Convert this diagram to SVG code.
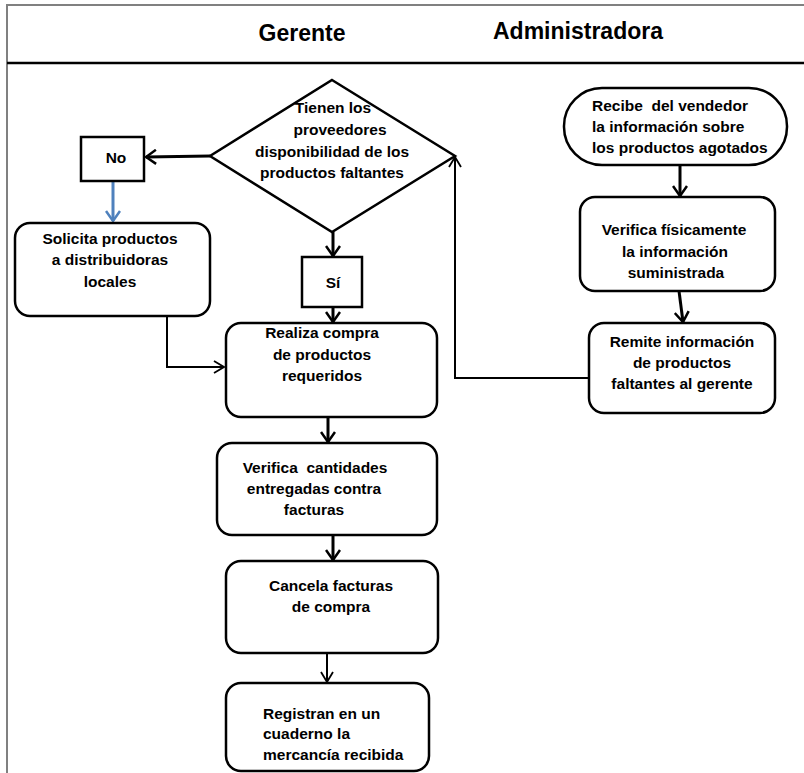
<svg xmlns="http://www.w3.org/2000/svg" width="804" height="773" viewBox="0 0 804 773">
<style>
  .t{font-family:"Liberation Sans",Arial,sans-serif;font-weight:bold;font-size:15.5px;fill:#000}
  .h{font-family:"Liberation Sans",Arial,sans-serif;font-weight:bold;font-size:23px;fill:#000}
  .box{fill:#fff;stroke:#000;stroke-width:2.5}
  .c{fill:none;stroke:#000;stroke-width:3}
  .ct{fill:none;stroke:#000;stroke-width:2}
</style>
<defs>
  <marker id="ah" viewBox="0 0 12 16" refX="11" refY="8" markerWidth="12" markerHeight="16" markerUnits="userSpaceOnUse" orient="auto">
    <path d="M1,1 L11,8 L1,15" fill="none" stroke="#000" stroke-width="2.5"/>
  </marker>
  <marker id="ahb" viewBox="0 0 12 16" refX="11" refY="8" markerWidth="12" markerHeight="16" markerUnits="userSpaceOnUse" orient="auto">
    <path d="M1,1 L11,8 L1,15" fill="none" stroke="#4f81bd" stroke-width="2.5"/>
  </marker>
  <marker id="aht" viewBox="0 0 12 14" refX="11" refY="7" markerWidth="12" markerHeight="14" markerUnits="userSpaceOnUse" orient="auto">
    <path d="M1,1 L11,7 L1,13" fill="none" stroke="#000" stroke-width="1.8"/>
  </marker>
</defs>
<rect width="804" height="773" fill="#fff"/>
<g id="frame">
  <line x1="6" y1="5" x2="804" y2="5" stroke="#808080" stroke-width="2"/>
  <line x1="7" y1="4" x2="7" y2="773" stroke="#808080" stroke-width="2"/>
  <line x1="7" y1="63" x2="804" y2="63" stroke="#000" stroke-width="2.5"/>
  <text class="h" x="302" y="41" text-anchor="middle">Gerente</text>
  <text class="h" x="578" y="39" text-anchor="middle">Administradora</text>
</g>
<g id="connectors">
  <line class="c" x1="210" y1="156" x2="146" y2="157" marker-end="url(#ah)"/>
  <line x1="113" y1="181" x2="113" y2="221" stroke="#4f81bd" stroke-width="3" marker-end="url(#ahb)"/>
  <line class="c" x1="333" y1="232" x2="333" y2="256" marker-end="url(#ah)"/>
  <line class="c" x1="333" y1="307" x2="333" y2="322" marker-end="url(#ah)"/>
  <polyline class="ct" points="167,316 167,367 224,367" marker-end="url(#aht)"/>
  <line class="c" x1="328" y1="417" x2="328" y2="442" marker-end="url(#ah)"/>
  <line class="c" x1="333" y1="535" x2="333" y2="560" marker-end="url(#ah)"/>
  <line class="ct" x1="327" y1="653" x2="327" y2="682" marker-end="url(#aht)"/>
  <line class="c" x1="680" y1="165" x2="680" y2="196" marker-end="url(#ah)"/>
  <line class="c" x1="679" y1="291" x2="683" y2="322" marker-end="url(#ah)"/>
  <polyline class="ct" points="589,378 455,378 455,157" marker-end="url(#aht)"/>
</g>
<g id="decision">
  <polygon class="box" points="332,80 455,156 332,232 210,156" stroke-width="2"/>
  <text class="t" x="333" y="113" text-anchor="middle">Tienen los</text>
  <text class="t" x="340" y="135" text-anchor="middle">proveedores</text>
  <text class="t" x="332" y="157" text-anchor="middle">disponibilidad de los</text>
  <text class="t" x="332" y="178" text-anchor="middle">productos faltantes</text>
</g>
<g id="no">
  <rect class="box" x="81" y="137" width="63" height="44"/>
  <text class="t" x="116" y="163" text-anchor="middle">No</text>
</g>
<g id="si">
  <rect class="box" x="302" y="257" width="60" height="50"/>
  <text class="t" x="333" y="288" text-anchor="middle">Sí</text>
</g>
<g id="solicita">
  <rect class="box" x="15" y="223" width="195" height="93" rx="15"/>
  <text class="t" x="110" y="244" text-anchor="middle">Solicita productos</text>
  <text class="t" x="110" y="265" text-anchor="middle">a distribuidoras</text>
  <text class="t" x="110" y="287" text-anchor="middle">locales</text>
</g>
<g id="realiza">
  <rect class="box" x="226" y="323" width="211" height="94" rx="15"/>
  <text class="t" x="322" y="338" text-anchor="middle">Realiza compra</text>
  <text class="t" x="322" y="360" text-anchor="middle">de productos</text>
  <text class="t" x="322" y="381" text-anchor="middle">requeridos</text>
</g>
<g id="verifica-cantidades">
  <rect class="box" x="217" y="443" width="220" height="92" rx="15"/>
  <text class="t" x="315" y="473" text-anchor="middle" xml:space="preserve">Verifica  cantidades</text>
  <text class="t" x="314" y="494" text-anchor="middle">entregadas contra</text>
  <text class="t" x="314" y="515" text-anchor="middle">facturas</text>
</g>
<g id="cancela">
  <rect class="box" x="226" y="561" width="212" height="92" rx="15"/>
  <text class="t" x="331" y="591" text-anchor="middle">Cancela facturas</text>
  <text class="t" x="331" y="612" text-anchor="middle">de compra</text>
</g>
<g id="registran">
  <rect class="box" x="226" y="683" width="203" height="88" rx="15"/>
  <text class="t" x="263" y="719">Registran en un</text>
  <text class="t" x="263" y="739">cuaderno la</text>
  <text class="t" x="263" y="760">mercancía recibida</text>
</g>
<g id="recibe">
  <rect class="box" x="564" y="88" width="223" height="77" rx="38"/>
  <text class="t" x="592" y="111" xml:space="preserve">Recibe  del vendedor</text>
  <text class="t" x="592" y="132">la información sobre</text>
  <text class="t" x="592" y="153">los productos agotados</text>
</g>
<g id="verifica-fisicamente">
  <rect class="box" x="580" y="197" width="195" height="94" rx="15"/>
  <text class="t" x="674" y="235" text-anchor="middle">Verifica físicamente</text>
  <text class="t" x="675" y="257" text-anchor="middle">la información</text>
  <text class="t" x="676" y="278" text-anchor="middle">suministrada</text>
</g>
<g id="remite">
  <rect class="box" x="589" y="323" width="186" height="90" rx="15"/>
  <text class="t" x="682" y="347" text-anchor="middle">Remite información</text>
  <text class="t" x="682" y="368" text-anchor="middle">de productos</text>
  <text class="t" x="682" y="389" text-anchor="middle">faltantes al gerente</text>
</g>
</svg>
